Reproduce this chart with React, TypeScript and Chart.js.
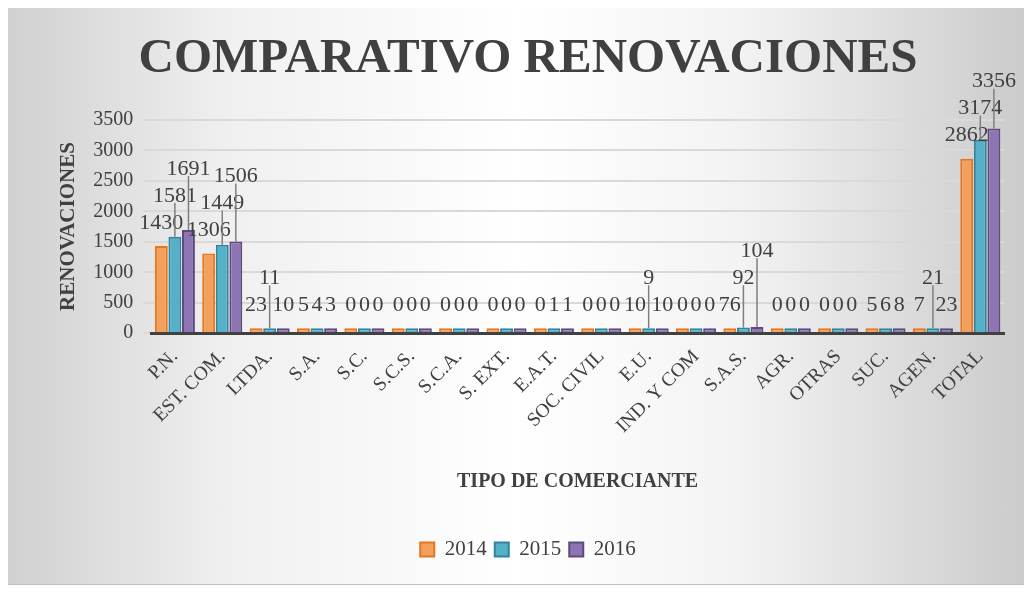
import React, { useEffect, useRef } from "react";
import { Chart, registerables } from "chart.js";

Chart.register(...registerables);

const categories = [
  "P.N.", "EST. COM.", "LTDA.", "S.A.", "S.C.", "S.C.S.", "S.C.A.", "S. EXT.", "E.A.T.",
  "SOC. CIVIL", "E.U.", "IND. Y COM", "S.A.S.", "AGR.", "OTRAS", "SUC.", "AGEN.", "TOTAL",
];
const values2014 = [1430, 1306, 23, 5, 0, 0, 0, 0, 0, 0, 10, 0, 76, 0, 0, 5, 7, 2862];
const values2015 = [1581, 1449, 11, 4, 0, 0, 0, 0, 1, 0, 9, 0, 92, 0, 0, 6, 21, 3174];
const values2016 = [1691, 1506, 10, 3, 0, 0, 0, 0, 1, 0, 10, 0, 104, 0, 0, 8, 23, 3356];
const seriesNames = ["2014", "2015", "2016"];
const yTicks = [0, 500, 1000, 1500, 2000, 2500, 3000, 3500];

const SERIF = "Liberation Serif";

const labelPlugin = {
  id: "barLabels",
  afterDatasetsDraw(chart: any) {
    const ctx = chart.ctx;
    ctx.save();
    ctx.font = `22px ${SERIF}`;
    ctx.fillStyle = "#404040";
    ctx.textAlign = "center";
    ctx.textBaseline = "bottom";
    const n = chart.data.labels.length;
    for (let i = 0; i < n; i++) {
      const placed: { l: number; r: number; t: number; b: number }[] = [];
      chart.data.datasets.forEach((ds: any, d: number) => {
        const meta = chart.getDatasetMeta(d);
        const bar = meta.data[i];
        if (!bar) return;
        const text = String(ds.data[i]);
        const w = ctx.measureText(text).width;
        const h = 19;
        const top = bar.y;
        let yb = top - 12;
        let moved = true;
        while (moved) {
          moved = false;
          for (const p of placed) {
            const l = bar.x - w / 2, r = bar.x + w / 2;
            const ov = Math.min(r, p.r) - Math.max(l, p.l);
            const vov = Math.min(yb, p.b) - Math.max(yb - h, p.t);
            if (ov > 0 && vov > -6) {
              yb = p.t - 8;
              moved = true;
            }
          }
        }
        if (yb < top - 16) {
          ctx.strokeStyle = "#7f7f7f";
          ctx.lineWidth = 1.5;
          ctx.beginPath();
          ctx.moveTo(bar.x, top);
          ctx.lineTo(bar.x, yb - 4);
          ctx.stroke();
        }
        ctx.fillText(text, bar.x, yb);
        placed.push({ l: bar.x - w / 2, r: bar.x + w / 2, t: yb - h, b: yb });
      });
    }
    ctx.restore();
  },
};

export default function App() {
  const ref = useRef<HTMLCanvasElement>(null);
  useEffect(() => {
    if (!ref.current) return;
    const chart = new Chart(ref.current, {
      type: "bar",
      data: {
        labels: categories,
        datasets: [
          { label: seriesNames[0], data: values2014, backgroundColor: "#F2A05C", borderColor: "#E5751F", borderWidth: 2 },
          { label: seriesNames[1], data: values2015, backgroundColor: "#55B1C8", borderColor: "#31859C", borderWidth: 2 },
          { label: seriesNames[2], data: values2016, backgroundColor: "#8D74B2", borderColor: "#5F4A7E", borderWidth: 2 },
        ],
      },
      options: {
        animation: false,
        responsive: true,
        maintainAspectRatio: false,
        layout: { padding: { left: 46, right: 22, top: 8, bottom: 14 } },
        datasets: { bar: { categoryPercentage: 0.86, barPercentage: 0.95, minBarLength: 5 } } as any,
        plugins: {
          title: {
            display: true,
            text: "COMPARATIVO RENOVACIONES",
            font: { family: SERIF, size: 49, weight: "bold" },
            color: "#404040",
            padding: { top: 16, bottom: 31 },
          },
          legend: {
            position: "bottom",
            labels: {
              font: { family: SERIF, size: 21 },
              color: "#404040",
              boxWidth: 14,
              boxHeight: 14,
              padding: 8,
            },
          },
          tooltip: { enabled: false },
        },
        scales: {
          x: {
            grid: { display: false },
            border: { color: "#404040", width: 3 },
            ticks: {
              font: { family: SERIF, size: 19.5 },
              color: "#404040",
              minRotation: 45,
              maxRotation: 45,
              padding: 4,
            },
            title: {
              display: true,
              text: "TIPO DE COMERCIANTE",
              font: { family: SERIF, size: 20, weight: "bold" },
              color: "#404040",
              padding: { top: 28, bottom: 37 },
            },
          },
          y: {
            min: 0,
            max: 3500,
            afterBuildTicks: (axis: any) => {
              axis.ticks = yTicks.map((v) => ({ value: v }));
            },
            grid: { color: "#d9d9d9", lineWidth: 2, tickLength: 8 },
            border: { display: false },
            ticks: {
              font: { family: SERIF, size: 20 },
              color: "#404040",
              padding: 10,
              callback: (v: any) => String(v),
            },
            title: {
              display: true,
              text: "RENOVACIONES",
              font: { family: SERIF, size: 21, weight: "bold" },
              color: "#404040",
              padding: { bottom: 2 },
            },
          },
        },
      },
      plugins: [labelPlugin],
    });
    return () => chart.destroy();
  }, []);

  return (
    <div
      style={{
        position: "relative",
        left: -3,
        top: -3,
        width: 1022,
        height: 580,
        border: "1px solid #bfbfbf",
        background: "linear-gradient(90deg, #d0d0d0 0%, #f0f0f0 22%, #ffffff 50%, #f3f3f3 72%, #cbcbcb 100%)",
        boxSizing: "border-box",
      }}
    >
      <canvas ref={ref} />
    </div>
  );
}
